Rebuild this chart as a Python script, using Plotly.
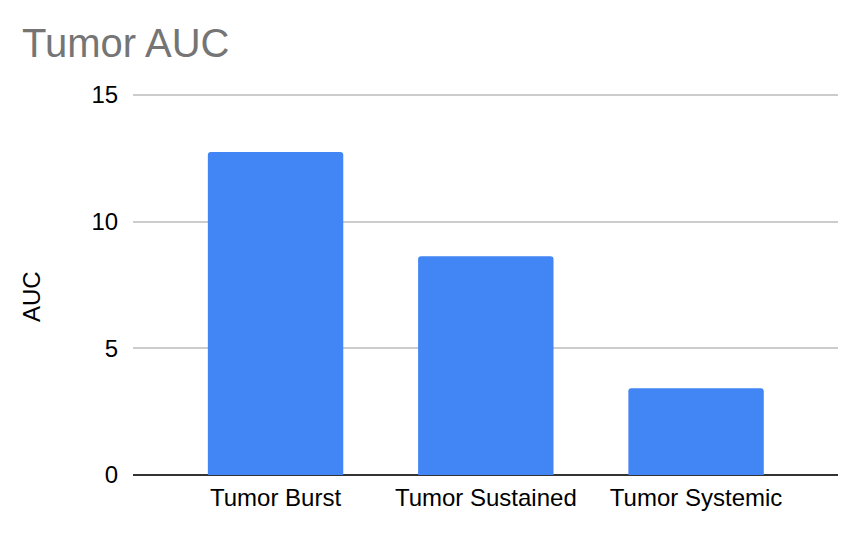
import plotly.graph_objects as go

categories = ["Tumor Burst", "Tumor Sustained", "Tumor Systemic"]
auc_values = [12.75, 8.64, 3.42]
y_ticks = [0, 5, 10, 15]

FONT = "Liberation Sans, Arial, sans-serif"

fig = go.Figure()
fig.add_trace(go.Bar(
    x=list(range(len(categories))),
    y=auc_values,
    width=0.644,
    marker=dict(color="#4285F4", line=dict(width=0)),
    hoverinfo="skip",
))

fig.update_layout(
    width=860, height=536,
    margin=dict(l=133, r=22, t=94, b=61, pad=0),
    paper_bgcolor="white", plot_bgcolor="white",
    showlegend=False,
    barcornerradius=3,
    font=dict(family=FONT, color="#000000", size=24),
    title=dict(
        text="Tumor AUC",
        font=dict(family=FONT, size=40, color="#757575"),
        x=22 / 860, xanchor="left", xref="container",
        y=1 - 42.5 / 536, yanchor="middle", yref="container",
    ),
    xaxis=dict(
        range=[-0.678, 2.675],
        tickmode="array",
        tickvals=list(range(len(categories))),
        ticktext=categories,
        showgrid=False, zeroline=False, showline=False,
        ticks="outside", ticklen=1, tickcolor="rgba(0,0,0,0)",
        tickfont=dict(family=FONT, size=24, color="#000000"),
        fixedrange=True,
    ),
    yaxis=dict(
        range=[0, 15.04],
        tickmode="array",
        tickvals=y_ticks,
        ticktext=[str(v) for v in y_ticks],
        showgrid=True, gridcolor="#cccccc", gridwidth=2,
        zeroline=True, zerolinecolor="#333333", zerolinewidth=2,
        showline=False,
        ticks="outside", ticklen=9, tickcolor="rgba(0,0,0,0)",
        tickfont=dict(family=FONT, size=24, color="#000000"),
        fixedrange=True,
    ),
    annotations=[dict(
        text="AUC", textangle=-90,
        xref="paper", yref="paper",
        x=(31 - 133) / 705, y=(475 - 297) / 381,
        xanchor="center", yanchor="middle",
        showarrow=False,
        font=dict(family=FONT, size=24, color="#000000"),
    )],
)

fig.write_html(
    "out.html",
    config={"displayModeBar": False},
    post_script="document.body.style.margin='0';document.body.style.padding='0';",
)
